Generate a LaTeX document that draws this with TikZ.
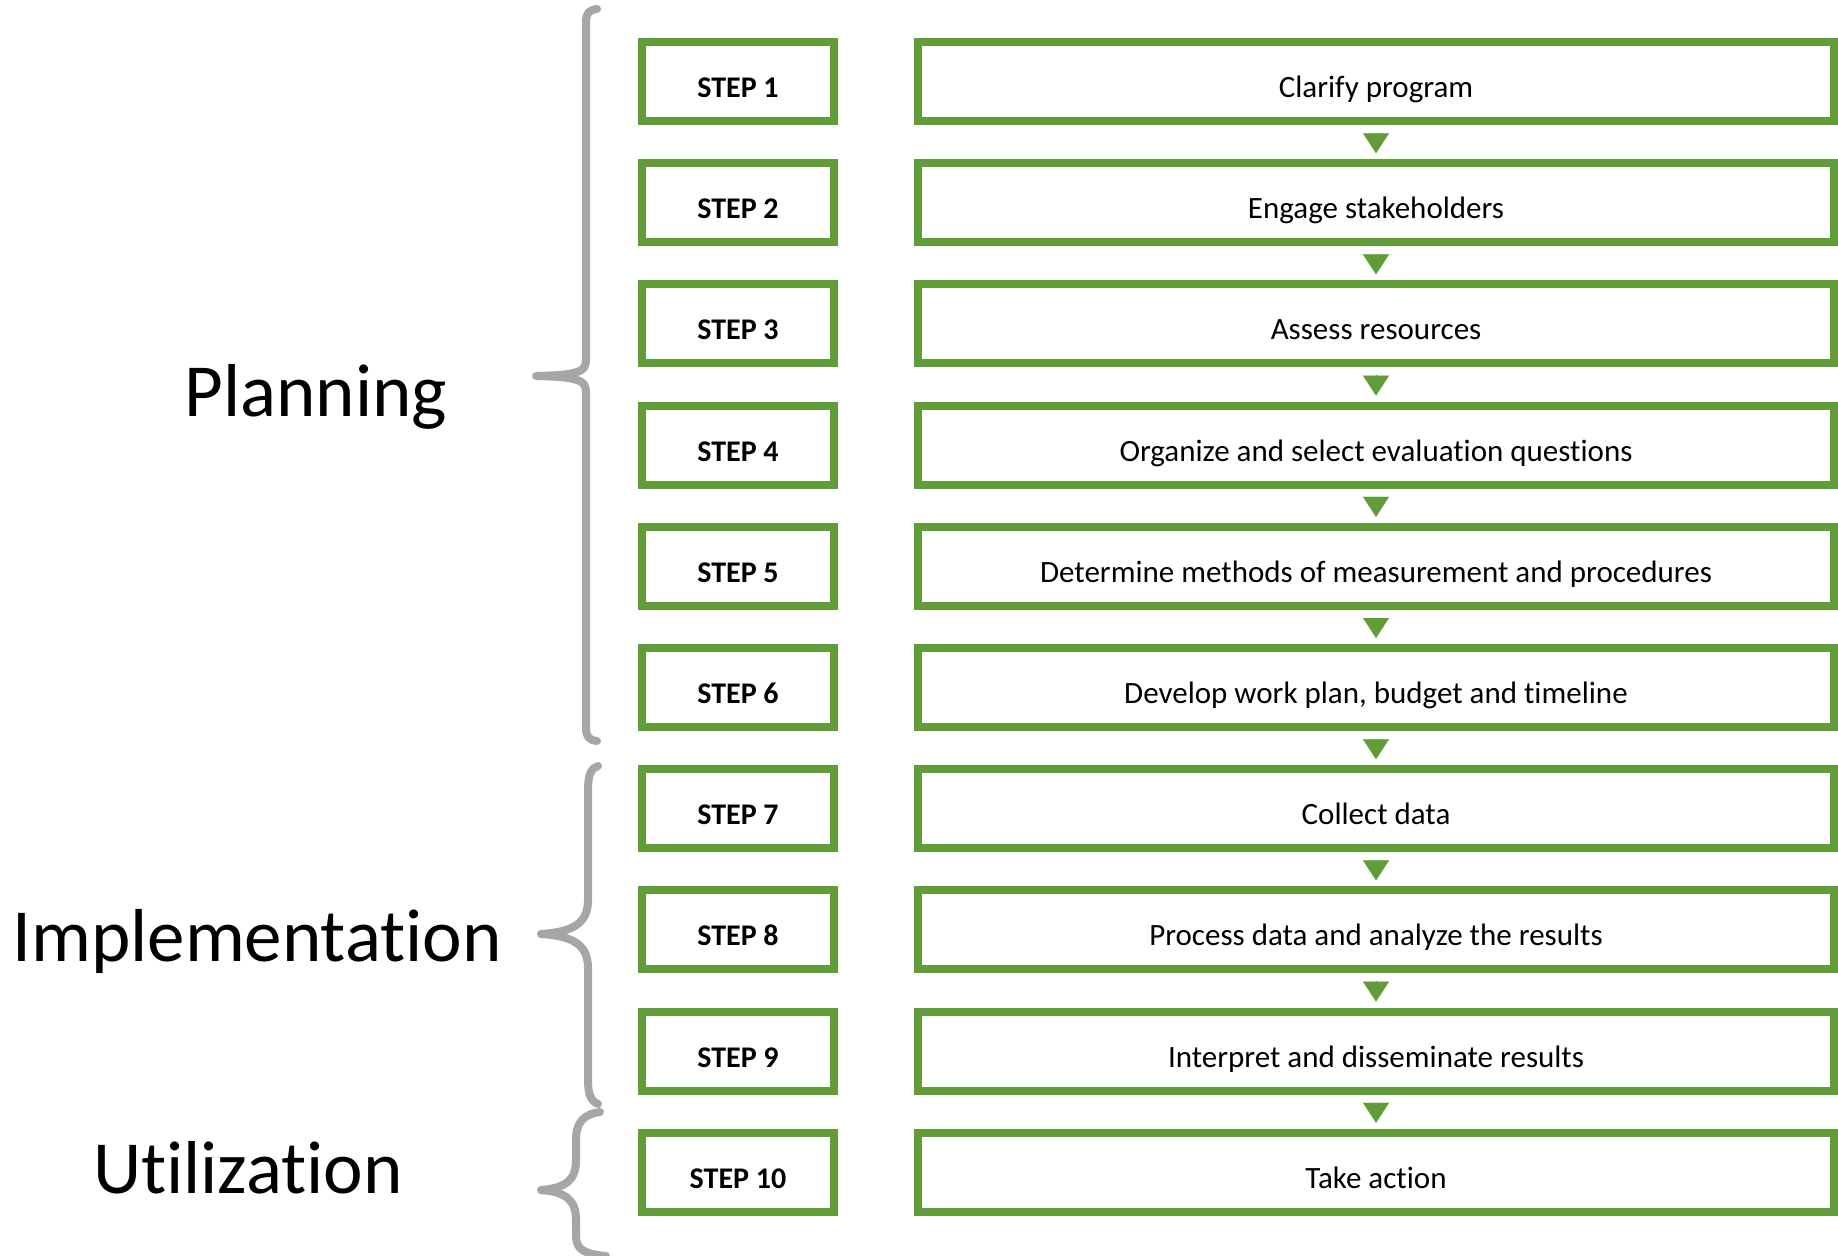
\documentclass[tikz,border=0pt]{standalone}
\usepackage{fontspec}
\setmainfont{Carlito}[RawFeature={-liga}]
\usetikzlibrary{arrows.meta}
\definecolor{stepgreen}{RGB}{96,157,56}
\definecolor{bracegray}{RGB}{166,166,166}
\begin{document}
\begin{tikzpicture}[x=1pt,y=-1pt,
  stepbox/.style={draw=stepgreen, line width=8pt, minimum width=192pt, minimum height=79pt,
    inner sep=0pt, text height=32pt, text depth=0pt, font=\fontsize{30}{36}\selectfont\bfseries},
  taskbox/.style={draw=stepgreen, line width=8pt, minimum width=916pt, minimum height=79pt,
    inner sep=0pt, text height=32pt, text depth=0pt, font=\fontsize{31}{37}\selectfont},
  flow/.style={draw=stepgreen, fill=stepgreen, line width=0.1pt,
    -{Triangle[length=20pt,width=26pt]}, shorten <=8pt, shorten >=6pt},
  brace/.style={draw=bracegray, line width=8pt, line cap=round, line join=round},
  phase/.style={font=\fontsize{75}{90}\selectfont, anchor=base, inner sep=0pt}]
\useasboundingbox[fill=white] (0,0) rectangle (1838,1255);

\foreach \i/\t in {1/{Clarify program},2/{Engage stakeholders},3/{Assess resources},
  4/{Organize and select evaluation questions},5/{Determine methods of measurement and procedures},
  6/{Develop work plan, budget and timeline},7/{Collect data},8/{Process data and analyze the results},
  9/{Interpret and disseminate results},10/{Take action}}{
  \pgfmathsetmacro\yy{81.5+121.2*(\i-1)}
  \node[stepbox] (s\i) at (738,\yy) {STEP \i};
  \node[taskbox] (w\i) at (1376,\yy) {\t};
}
\foreach \a/\b in {1/2,2/3,3/4,4/5,5/6,6/7,7/8,8/9,9/10}{
  \draw[flow] (w\a.south) -- (w\b.north);
}

% braces
\draw[brace] (597,9) .. controls (589,10) and (586,13) .. (586,22) -- (586,360)
  .. controls (586,372) and (578,375) .. (536,376)
  .. controls (578,377) and (586,380) .. (586,392) -- (586,728)
  .. controls (586,737) and (589,740) .. (597,741);
\draw[brace] (598,766) .. controls (591,768) and (588,775) .. (588,790) -- (588,900)
  .. controls (588,924) and (572,932) .. (541,934)
  .. controls (572,936) and (588,944) .. (588,968) -- (588,1080)
  .. controls (588,1095) and (591,1101) .. (598,1104);
\draw[brace] (600,1112) .. controls (585,1114) and (576,1121) .. (576,1140) -- (576,1160)
  .. controls (576,1180) and (566,1188) .. (541,1190)
  .. controls (566,1192) and (576,1200) .. (576,1220) -- (576,1236)
  .. controls (576,1250) and (585,1254) .. (606,1256);

\node[phase] (planning) at (316,416) {Planning};
\node[phase] (implementation) at (257,961) {Implementation};
\node[phase] (utilization) at (248,1193) {Utilization};
\end{tikzpicture}
\end{document}
